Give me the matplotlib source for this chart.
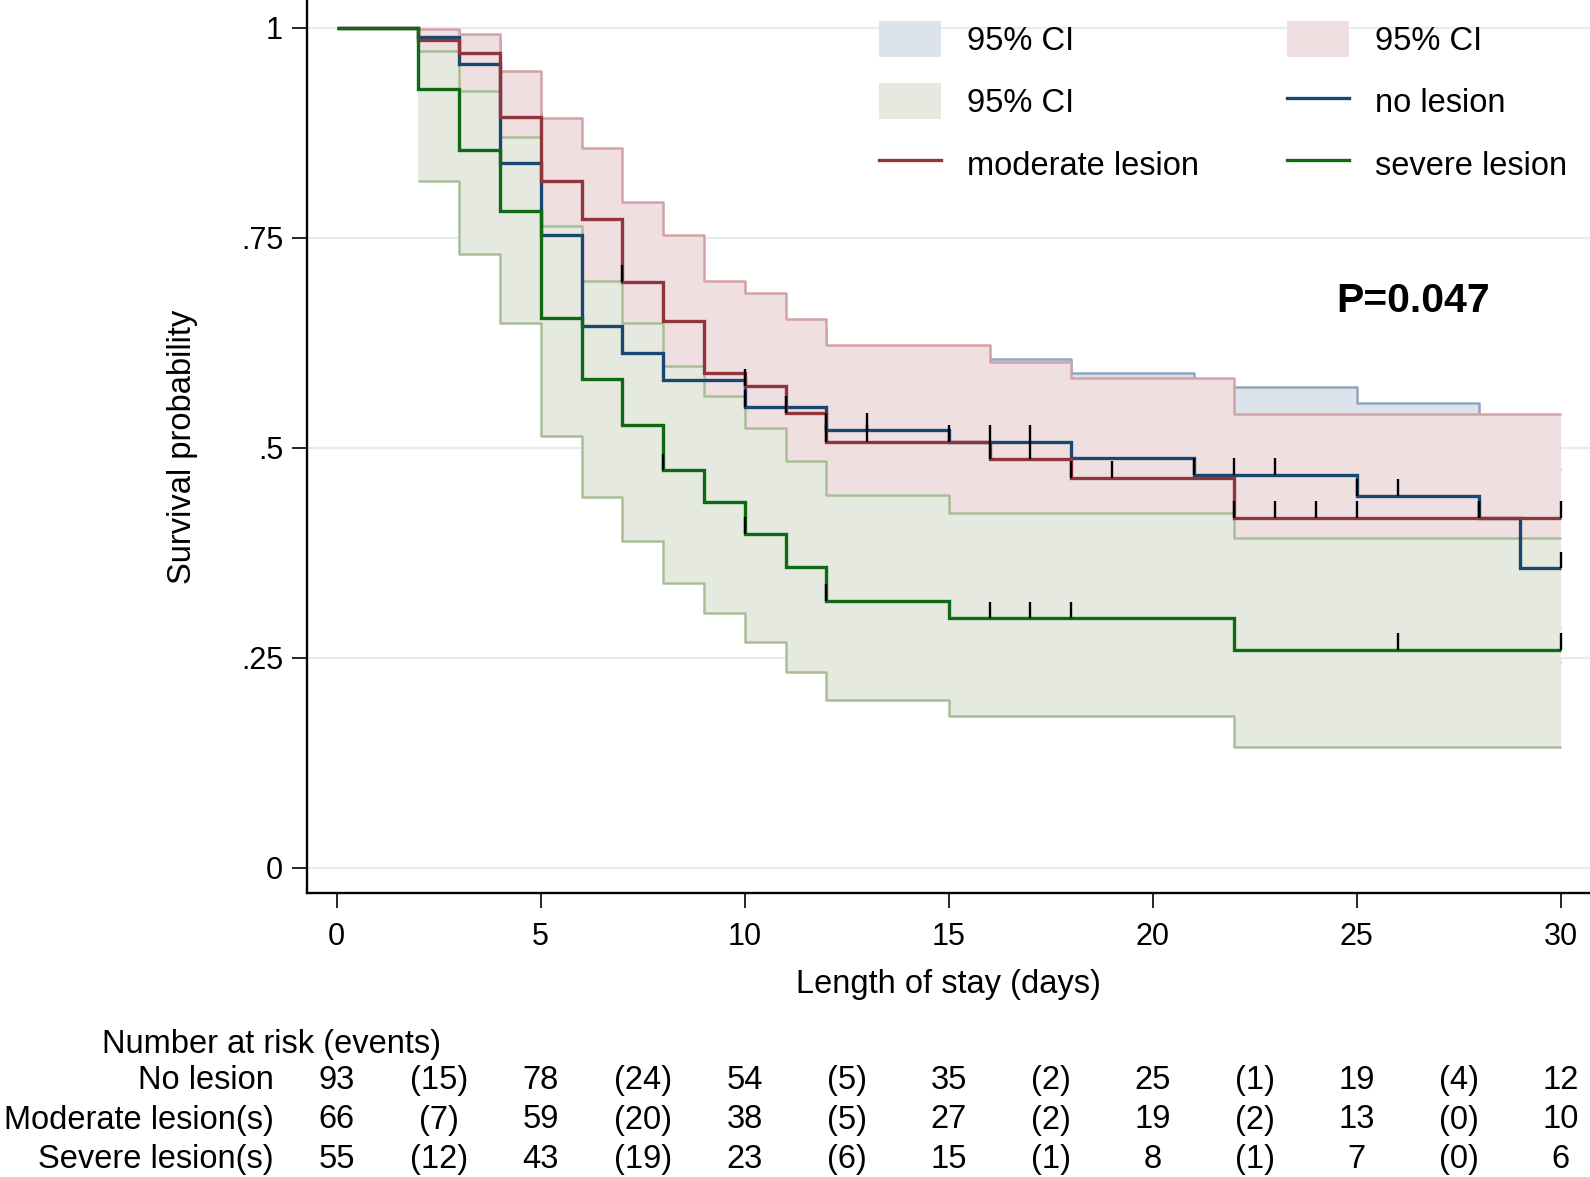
import numpy as np
import matplotlib
matplotlib.use("Agg")
import matplotlib.pyplot as plt
from matplotlib.patches import Patch
from matplotlib.lines import Line2D
from matplotlib.transforms import blended_transform_factory

plt.rcParams['font.family'] = ['Liberation Sans', 'DejaVu Sans']

END = 30

# ---- Kaplan-Meier estimates (value after each event time) ----
no_t = [0, 2, 3, 4, 5, 6, 7, 8, 10, 12, 15, 18, 21, 25, 28, 29]
no_s = [1, .989, .957, .839, .753, .645, .613, .581, .5488, .5215, .5071, .4873, .4675, .4425, .416, .3564]
no_ci_t = [2, 3, 4, 5, 6, 7, 8, 10, 12, 15, 18, 21, 25, 28, 29]
no_hi = [.997, .985, .90, .83, .73, .70, .665, .64, .615, .606, .589, .5727, .5528, .525, .475]
no_lo = [.93, .89, .75, .65, .54, .51, .475, .44, .41, .40, .38, .36, .335, .305, .245]
no_cens = [10, 12, 13, 15, 16, 17, 21, 22, 23, 25, 26, 28, 30]

mod_t = [0, 2, 3, 4, 5, 6, 7, 8, 9, 10, 11, 12, 16, 18, 22]
mod_s = [1, .985, .970, .894, .818, .7726, .697, .6505, .5885, .5735, .541, .5071, .4866, .4645, .416]
mod_ci_t = [2, 3, 4, 5, 6, 7, 8, 9, 10, 11, 12, 16, 18, 22]
mod_hi = [.999, .993, .948, .892, .857, .793, .753, .698, .684, .653, .622, .6024, .5834, .5397]
mod_lo = [.90, .885, .79, .70, .65, .57, .52, .46, .445, .41, .375, .355, .335, .285]
mod_cens = [7, 10, 11, 12, 13, 16, 17, 18, 19, 22, 23, 24, 25, 28, 30]

sev_t = [0, 2, 3, 4, 5, 6, 7, 8, 9, 10, 11, 12, 15, 22]
sev_s = [1, .927, .8545, .782, .6545, .582, .5275, .473, .435, .397, .3575, .318, .2967, .2594]
sev_ci_t = [2, 3, 4, 5, 6, 7, 8, 9, 10, 11, 12, 15, 22]
sev_hi = [.9726, .925, .870, .764, .699, .649, .597, .5615, .523, .4845, .4437, .4226, .392]
sev_lo = [.8175, .7306, .649, .5143, .4417, .3889, .3386, .3036, .269, .2333, .2002, .1806, .144]
sev_cens = [8, 10, 12, 16, 17, 18, 26, 30]

# ---- Number at risk table ----
risk_times = [0, 5, 10, 15, 20, 25, 30]
risk_no = [93, 78, 54, 35, 25, 19, 12]
events_no = [15, 24, 5, 2, 1, 4]
risk_mod = [66, 59, 38, 27, 19, 13, 10]
events_mod = [7, 20, 5, 2, 2, 0]
risk_sev = [55, 43, 23, 15, 8, 7, 6]
events_sev = [12, 19, 6, 1, 1, 0]
row_labels = ["No lesion", "Moderate lesion(s)", "Severe lesion(s)"]

# colours
c_blue, c_red, c_green = "#1a476f", "#90353b", "#0f6a14"
f_blue, f_red, f_green = "#dde3eb", "#efdfe1", "#e6e9e0"
e_blue, e_red, e_green = "#8fa6bf", "#d3a2a7", "#a9be96"

W, H = 1590, 1177
fig = plt.figure(figsize=(W / 100, H / 100), dpi=100)
ax_l, ax_r, ax_b, ax_t = 306.7, 1590, 893.3, 0
ax = fig.add_axes([ax_l / W, 1 - ax_b / H, (ax_r - ax_l) / W, (ax_b - ax_t) / H])

x0px, dpx = 336.7, 40.8
y0px, ypx = 867.7, 840.0
ax.set_xlim((ax_l - x0px) / dpx, (ax_r - x0px) / dpx)
ax.set_ylim(-(ax_b - y0px) / ypx, (y0px - ax_t) / ypx)


def ext(t, v):
    return list(t) + [END], list(v) + [v[-1]]


def band(t, lo, hi, fc, ec, z):
    xs, l = ext(t, lo)
    _, h = ext(t, hi)
    ax.fill_between(xs, l, h, step='post', facecolor=fc, edgecolor='none', zorder=z)
    ax.step(xs, h, where='post', color=ec, lw=1.8, zorder=z + 0.1, solid_capstyle='butt')
    ax.step(xs, l, where='post', color=ec, lw=1.8, zorder=z + 0.1, solid_capstyle='butt')


band(no_ci_t, no_lo, no_hi, f_blue, e_blue, 1)
band(mod_ci_t, mod_lo, mod_hi, f_red, e_red, 2)
band(sev_ci_t, sev_lo, sev_hi, f_green, e_green, 3)


def curve(t, s, cens, col):
    xs, ys = ext(t, s)
    ax.step(xs, ys, where='post', color=col, lw=2.4, zorder=5, solid_joinstyle='miter',
            solid_capstyle='butt')
    idx = np.searchsorted(np.array(t), np.array(cens), side='right') - 1
    yv = np.array(s)[idx]
    ax.vlines(cens, yv, yv + 0.02, color='black', lw=1.7, zorder=6)


curve(no_t, no_s, no_cens, c_blue)
curve(mod_t, mod_s, mod_cens, c_red)
curve(sev_t, sev_s, sev_cens, c_green)

# axes styling
for sp in ['top', 'right']:
    ax.spines[sp].set_visible(False)
for sp in ['left', 'bottom']:
    ax.spines[sp].set_linewidth(1.7)
ax.set_yticks([0, .25, .5, .75, 1])
ax.set_yticklabels(["0", ".25", ".5", ".75", "1"])
ax.set_xticks(np.arange(0, 31, 5))
ax.tick_params(axis='both', length=11, width=1.2, labelsize=22)
ax.tick_params(axis='x', pad=9.5)
ax.tick_params(axis='y', pad=6)
ax.yaxis.grid(True, color="#e4edf0", lw=1.6)
ax.set_axisbelow(True)

ax.set_xlabel("Length of stay (days)", fontsize=23.5)
ax.xaxis.label.set_va('center')
ax.xaxis.set_label_coords((948.7 - ax_l) / (ax_r - ax_l), -(985 - ax_b) / (ax_b - ax_t))
ax.set_ylabel("Survival probability", fontsize=23.5)
ax.yaxis.label.set_va('center')
ax.yaxis.set_label_coords(-(ax_l - 182.5) / (ax_r - ax_l), (ax_b - 447) / (ax_b - ax_t))

ax.text(26.38, 0.675, "P=0.047", fontsize=29.5, fontweight='bold', ha='center', va='center', zorder=7)

# legend
handles = [Patch(facecolor=f_blue, edgecolor='none'), Patch(facecolor=f_green, edgecolor='none'),
           Line2D([], [], color=c_red, lw=2.4), Patch(facecolor=f_red, edgecolor='none'),
           Line2D([], [], color=c_blue, lw=2.4), Line2D([], [], color=c_green, lw=2.4)]
labels = ["95% CI", "95% CI", "moderate lesion", "95% CI", "no lesion", "severe lesion"]
fig.legend(handles, labels, ncol=2, loc='upper left', bbox_to_anchor=(879 / W, 1 - 21 / H),
           bbox_transform=fig.transFigure, frameon=False, fontsize=23.5, borderpad=0,
           borderaxespad=0, handlelength=1.9, handleheight=1.3, handletextpad=0.8,
           columnspacing=2.68, labelspacing=0.82)

# number at risk table
tr = blended_transform_factory(ax.transData, fig.transFigure)
fig.text(102 / W, 1 - 1044 / H, "Number at risk (events)", fontsize=23.5, ha='left', va='center')
rows = [(risk_no, events_no), (risk_mod, events_mod), (risk_sev, events_sev)]
ys = [1080.5, 1120, 1159.5]
for (r, e), lab, yp in zip(rows, row_labels, ys):
    yf = 1 - yp / H
    fig.text(274 / W, yf, lab, fontsize=23.5, ha='right', va='center')
    for i, n in enumerate(r):
        ax.text(risk_times[i], yf, str(n), transform=tr, fontsize=23.5, ha='center', va='center', clip_on=False)
    for i, n in enumerate(e):
        xm = (risk_times[i] + risk_times[i + 1]) / 2
        ax.text(xm, yf, f"({n})", transform=tr, fontsize=23.5, ha='center', va='center', clip_on=False)

fig.savefig("out.png", dpi=100)
